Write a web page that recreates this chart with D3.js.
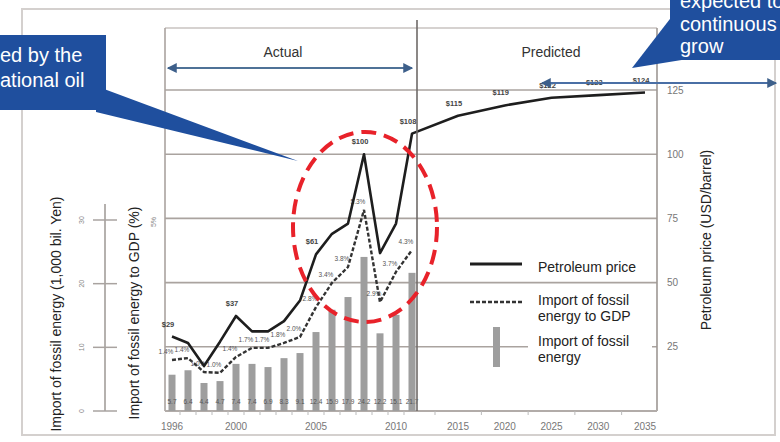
<!DOCTYPE html>
<html>
<head>
<meta charset="utf-8">
<script src="https://cdn.jsdelivr.net/npm/d3@7"></script>
<style>
  body { margin: 0; background: #fff; }
  svg { display: block; }
</style>
</head>
<body>
<svg id="chart" width="780" height="442"></svg>
<script>
// ---- data -------------------------------------------------------------
const actualYears = [1996, 1997, 1998, 1999, 2000, 2001, 2002, 2003, 2004, 2005, 2006, 2007, 2008, 2009, 2010, 2011];
// import of fossil energy, 1,000 bil. yen
const fossilImport = [5.7, 6.4, 4.4, 4.7, 7.4, 7.4, 6.9, 8.3, 9.1, 12.4, 15.9, 17.9, 24.2, 12.2, 15.1, 21.7];
// import of fossil energy to GDP, %
const importToGdp = [1.35, 1.4, 1.03, 1.01, 1.43, 1.67, 1.67, 1.8, 1.96, 2.75, 3.39, 3.81, 5.32, 2.88, 3.68, 4.26];
// petroleum price, USD/barrel (actual + predicted)
const priceYears = [1996, 1997, 1998, 1999, 2000, 2001, 2002, 2003, 2004, 2005, 2006, 2007, 2008, 2009, 2010, 2011, 2015, 2020, 2025, 2030, 2035];
const petroleumPrice = [29, 26.5, 17.5, 27, 37, 31, 31, 35, 43, 61, 69, 73, 100, 61.5, 73, 108, 115, 119, 122, 123, 124];
const priceLabelYears = [1996, 2000, 2005, 2008, 2011, 2015, 2020, 2025, 2030, 2035];
const xTickYears = [1996, 2000, 2005, 2010, 2015, 2020, 2025, 2030, 2035];
const priceTicks = [25, 50, 75, 100, 125];
const importTicks = [0, 10, 20, 30];

// ---- setup ------------------------------------------------------------
const svg = d3.select("#chart");
const narrow = "'Liberation Sans Narrow', 'Arial Narrow', 'Liberation Sans', Arial, sans-serif";
const sans = "'Liberation Sans', Arial, sans-serif";

const plot = { left: 165, right: 657, top: 28, bottom: 411 };

// actual years are one step apart, predicted years are spread wider
const x = d3.scaleLinear().domain([1996, 2011, 2015, 2035]).range([172, 412, 458, 645]);
const yPrice = d3.scaleLinear().domain([0, 125]).range([plot.bottom, 90]);
const yImport = d3.scaleLinear().domain([0, 30]).range([plot.bottom, 220]);
const yGdp = d3.scaleLinear().domain([0, 5]).range([plot.bottom, 222]);

const defs = svg.append("defs");
defs.append("filter").attr("id", "glow").attr("x", "-20%").attr("y", "-200%").attr("width", "140%").attr("height", "500%")
  .append("feGaussianBlur").attr("stdDeviation", 3);
defs.append("marker").attr("id", "head").attr("viewBox", "0 0 8 8").attr("refX", 7).attr("refY", 4)
  .attr("markerWidth", 5).attr("markerHeight", 5).attr("orient", "auto-start-reverse")
  .append("path").attr("d", "M0,0 L8,4 L0,8 z").attr("fill", "#3d5f8a");

svg.append("rect").attr("width", 780).attr("height", 442).attr("fill", "#fff");

// outer frame
svg.append("rect").attr("x", 22).attr("y", 9).attr("width", 753).attr("height", 426)
  .attr("fill", "none").attr("stroke", "#d4d0ce").attr("stroke-width", 2);

// ---- grid -------------------------------------------------------------
const gridColor = "#aaa39f";
svg.append("g").selectAll("line").data(priceTicks).join("line")
  .attr("x1", plot.left).attr("x2", plot.right)
  .attr("y1", d => yPrice(d)).attr("y2", d => yPrice(d))
  .attr("stroke", gridColor).attr("stroke-width", 1.6);
svg.append("line").attr("x1", plot.left).attr("x2", plot.right).attr("y1", plot.top).attr("y2", plot.top)
  .attr("stroke", "#c9c3c0").attr("stroke-width", 1.6);
svg.append("line").attr("x1", plot.left).attr("x2", plot.left).attr("y1", plot.top).attr("y2", plot.bottom)
  .attr("stroke", gridColor).attr("stroke-width", 1.6);
svg.append("line").attr("x1", plot.right).attr("x2", plot.right).attr("y1", plot.top).attr("y2", plot.bottom)
  .attr("stroke", "#9d9793").attr("stroke-width", 1.6);
svg.append("line").attr("x1", plot.left).attr("x2", plot.right).attr("y1", plot.bottom).attr("y2", plot.bottom)
  .attr("stroke", "#b2aca9").attr("stroke-width", 2);

// small ticks under the time axis, between neighbouring categories
const tickYears = priceYears.slice(0, -1).map((d, i) => (x(d) + x(priceYears[i + 1])) / 2);
svg.append("g").selectAll("line").data(tickYears).join("line")
  .attr("x1", d => d).attr("x2", d => d).attr("y1", plot.bottom).attr("y2", plot.bottom + 4)
  .attr("stroke", "#bbb").attr("stroke-width", 1);

// ---- legend backdrops ---------------------------------------------------
svg.append("rect").attr("x", 528).attr("y", 253).attr("width", 124).attr("height", 27).attr("fill", "#fff");
svg.append("rect").attr("x", 528).attr("y", 289).attr("width", 124).attr("height", 83).attr("fill", "#fff");

// ---- bars: import of fossil energy -------------------------------------
const barW = 7;
svg.append("g").selectAll("rect").data(actualYears).join("rect")
  .attr("x", d => x(d) - barW / 2)
  .attr("y", (d, i) => yImport(fossilImport[i]))
  .attr("width", barW)
  .attr("height", (d, i) => plot.bottom - yImport(fossilImport[i]))
  .attr("fill", "#9e9e9e");

svg.append("g").selectAll("text").data(actualYears).join("text")
  .attr("x", d => x(d)).attr("y", 404)
  .attr("text-anchor", "middle").attr("font-family", sans).attr("font-size", 6.5)
  .attr("fill", "#555")
  .text((d, i) => fossilImport[i].toFixed(1));

// ---- dashed line: import to GDP ---------------------------------------
const gdpLine = d3.line().x((d, i) => x(actualYears[i])).y(d => yGdp(d));
svg.append("path").datum(importToGdp).attr("d", gdpLine)
  .attr("fill", "none").attr("stroke", "#333").attr("stroke-width", 2.4)
  .attr("stroke-dasharray", "4,2");

svg.append("g").selectAll("text").data(importToGdp).join("text")
  .attr("x", (d, i) => x(actualYears[i]) - 6)
  .attr("y", d => yGdp(d) - 6)
  .attr("text-anchor", "middle").attr("font-family", sans).attr("font-size", 6.5)
  .attr("fill", "#555")
  .text(d => d.toFixed(1) + "%");

// ---- solid line: petroleum price --------------------------------------
const priceLine = d3.line().x((d, i) => x(priceYears[i])).y(d => yPrice(d));
svg.append("path").datum(petroleumPrice).attr("d", priceLine)
  .attr("fill", "none").attr("stroke", "#1e1e1e").attr("stroke-width", 2.6)
  .attr("stroke-linejoin", "round");

svg.append("g").selectAll("text").data(priceLabelYears).join("text")
  .attr("x", d => x(d) - 4)
  .attr("y", d => yPrice(petroleumPrice[priceYears.indexOf(d)]) - 10)
  .attr("text-anchor", "middle").attr("font-family", sans).attr("font-size", 7.5)
  .attr("font-weight", "bold").attr("fill", "#444")
  .text(d => "$" + d3.format(".0f")(petroleumPrice[priceYears.indexOf(d)]));

// actual / predicted divider
svg.append("line").attr("x1", 417).attr("x2", 417).attr("y1", 20).attr("y2", plot.bottom)
  .attr("stroke", "#6f6a68").attr("stroke-width", 1.6);

// ---- axes -------------------------------------------------------------
// right: petroleum price
svg.append("g").selectAll("text").data(priceTicks).join("text")
  .attr("x", 667).attr("y", d => yPrice(d) + 3.5)
  .attr("font-family", sans).attr("font-size", 10).attr("fill", "#777")
  .text(d => d);
svg.append("text").attr("transform", "translate(711,240) rotate(-90)")
  .attr("text-anchor", "middle").attr("font-family", narrow).attr("font-size", 14).attr("fill", "#222")
  .text("Petroleum price (USD/barrel)");

// bottom: years
svg.append("g").selectAll("text").data(xTickYears).join("text")
  .attr("x", d => x(d)).attr("y", 430)
  .attr("text-anchor", "middle").attr("font-family", sans).attr("font-size", 10).attr("fill", "#777")
  .text(d => d);

// left: import of fossil energy
const impAxisX = 105;
svg.append("line").attr("x1", impAxisX).attr("x2", impAxisX).attr("y1", 204).attr("y2", plot.bottom)
  .attr("stroke", "#9d9793").attr("stroke-width", 1.5);
svg.append("g").selectAll("line").data(importTicks).join("line")
  .attr("x1", 93).attr("x2", 117).attr("y1", d => yImport(d)).attr("y2", d => yImport(d))
  .attr("stroke", "#a9a3a0").attr("stroke-width", 1.5);
svg.append("g").selectAll("text").data(importTicks).join("text")
  .attr("transform", d => `translate(84,${yImport(d)}) rotate(-90)`)
  .attr("text-anchor", "middle").attr("font-family", sans).attr("font-size", 7).attr("fill", "#888")
  .text(d => d);
svg.append("text").attr("transform", "translate(61,314) rotate(-90)")
  .attr("text-anchor", "middle").attr("font-family", narrow).attr("font-size", 14).attr("fill", "#222")
  .text("Import of fossil energy (1,000 bil. Yen)");

// import to GDP axis
svg.append("text").attr("transform", `translate(156,${yGdp(5)}) rotate(-90)`)
  .attr("text-anchor", "middle").attr("font-family", sans).attr("font-size", 7).attr("fill", "#888")
  .text("5%");
svg.append("text").attr("transform", "translate(139,313) rotate(-90)")
  .attr("text-anchor", "middle").attr("font-family", narrow).attr("font-size", 14).attr("fill", "#222")
  .text("Import of fossil energy to GDP (%)");

// ---- period headers ---------------------------------------------------
svg.append("line").attr("x1", 150).attr("x2", 412).attr("y1", 68).attr("y2", 68)
  .attr("stroke", "#bcdcf0").attr("stroke-width", 7).attr("filter", "url(#glow)");
svg.append("line").attr("x1", 168).attr("x2", 412).attr("y1", 68).attr("y2", 68)
  .attr("stroke", "#4f7297").attr("stroke-width", 2)
  .attr("marker-start", "url(#head)").attr("marker-end", "url(#head)");
svg.append("rect").attr("x", 222).attr("y", 39).attr("width", 121).attr("height", 28).attr("fill", "#fff");
svg.append("text").attr("x", 283).attr("y", 57).attr("text-anchor", "middle")
  .attr("font-family", narrow).attr("font-size", 14).attr("fill", "#333").text("Actual");

svg.append("line").attr("x1", 540).attr("x2", 776).attr("y1", 86).attr("y2", 86)
  .attr("stroke", "#bfe3f2").attr("stroke-width", 8).attr("filter", "url(#glow)");
svg.append("line").attr("x1", 542).attr("x2", 776).attr("y1", 83).attr("y2", 83)
  .attr("stroke", "#4a6fa5").attr("stroke-width", 2)
  .attr("marker-start", "url(#head)").attr("marker-end", "url(#head)");
svg.append("text").attr("x", 551).attr("y", 57).attr("text-anchor", "middle")
  .attr("font-family", narrow).attr("font-size", 14).attr("fill", "#333").text("Predicted");

// ---- legend -----------------------------------------------------------
svg.append("line").attr("x1", 470).attr("x2", 522).attr("y1", 264).attr("y2", 264)
  .attr("stroke", "#1e1e1e").attr("stroke-width", 3);
svg.append("text").attr("x", 538).attr("y", 272).attr("font-family", narrow).attr("font-size", 14)
  .attr("fill", "#222").text("Petroleum price");
svg.append("line").attr("x1", 470).attr("x2", 522).attr("y1", 302).attr("y2", 302)
  .attr("stroke", "#333").attr("stroke-width", 2.6).attr("stroke-dasharray", "4,2");
svg.append("text").attr("x", 538).attr("y", 305).attr("font-family", narrow).attr("font-size", 14)
  .attr("fill", "#222").text("Import of fossil");
svg.append("text").attr("x", 538).attr("y", 321).attr("font-family", narrow).attr("font-size", 14)
  .attr("fill", "#222").text("energy to GDP");
svg.append("rect").attr("x", 493).attr("y", 327).attr("width", 7).attr("height", 40).attr("fill", "#9e9e9e");
svg.append("text").attr("x", 538).attr("y", 346).attr("font-family", narrow).attr("font-size", 14)
  .attr("fill", "#222").text("Import of fossil");
svg.append("text").attr("x", 538).attr("y", 362).attr("font-family", narrow).attr("font-size", 14)
  .attr("fill", "#222").text("energy");

// ---- highlight ellipse round the 2008 spike ---------------------------
svg.append("ellipse").attr("cx", 365).attr("cy", 227).attr("rx", 72).attr("ry", 95)
  .attr("fill", "none").attr("stroke", "#e8222a").attr("stroke-width", 4)
  .attr("stroke-dasharray", "15,8");

// ---- callouts ---------------------------------------------------------
const calloutBlue = "#1f4f9e";
svg.append("path").attr("d", "M96,86 L298,161 L96,112 Z").attr("fill", calloutBlue);
svg.append("rect").attr("x", 0).attr("y", 35).attr("width", 106).attr("height", 75).attr("fill", calloutBlue);
svg.append("text").attr("x", 0).attr("y", 62).attr("font-family", sans).attr("font-size", 20)
  .attr("fill", "#fff").text("ed by the");
svg.append("text").attr("x", 0).attr("y", 87).attr("font-family", sans).attr("font-size", 20)
  .attr("fill", "#fff").text("ational oil");

svg.append("path").attr("d", "M680,6 L632,68 L694,58 Z").attr("fill", calloutBlue);
svg.append("rect").attr("x", 670).attr("y", 0).attr("width", 110).attr("height", 60).attr("fill", calloutBlue);
svg.append("text").attr("x", 680).attr("y", 8).attr("font-family", sans).attr("font-size", 20)
  .attr("fill", "#fff").text("expected to");
svg.append("text").attr("x", 680).attr("y", 31).attr("font-family", sans).attr("font-size", 20)
  .attr("fill", "#fff").text("continuous");
svg.append("text").attr("x", 680).attr("y", 53).attr("font-family", sans).attr("font-size", 20)
  .attr("fill", "#fff").text("grow");
</script>
</body>
</html>
